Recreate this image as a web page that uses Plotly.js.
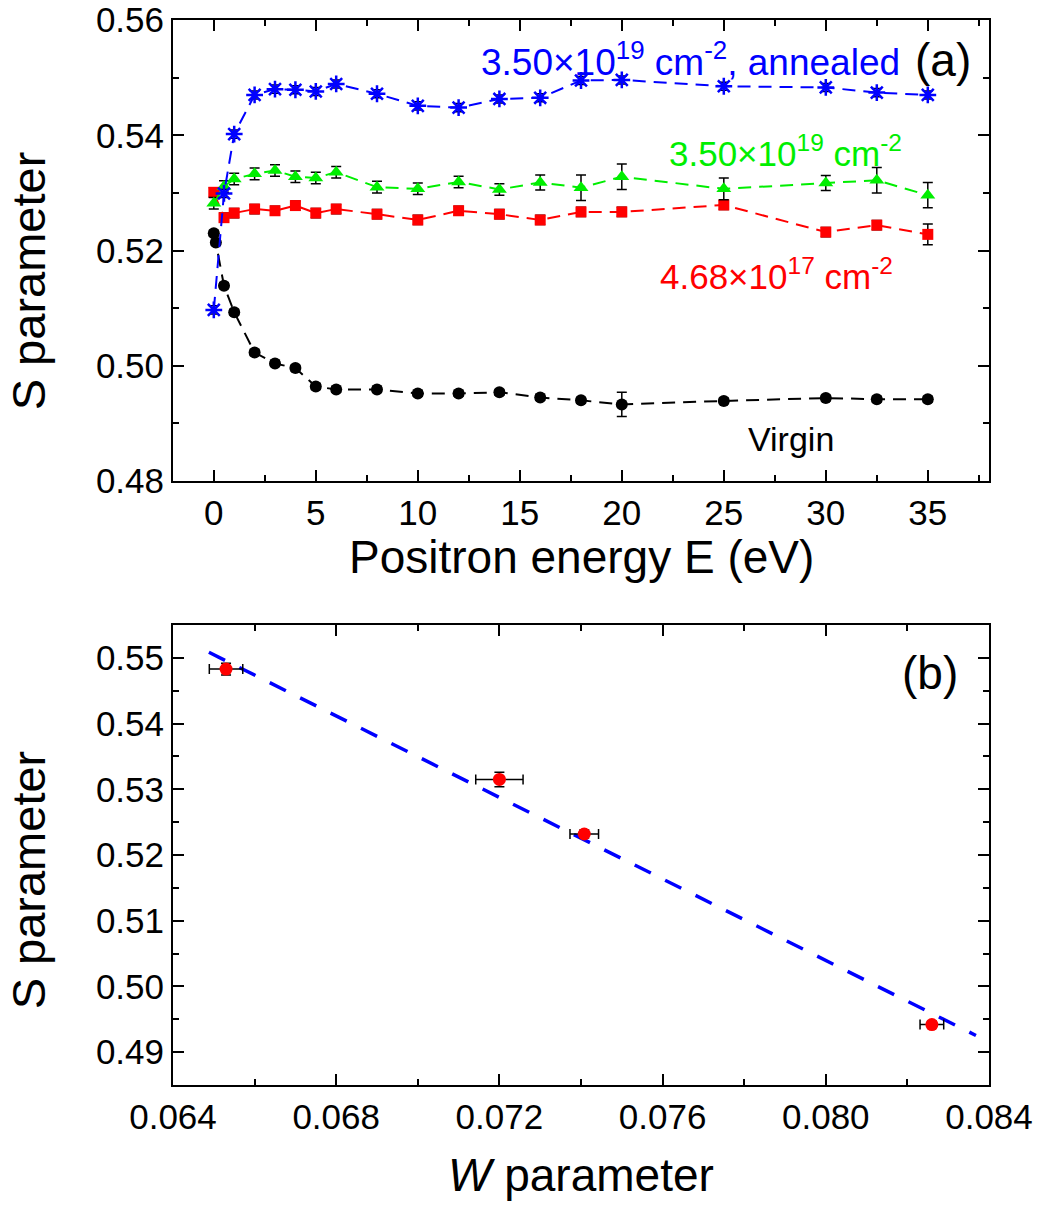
<!DOCTYPE html>
<html><head><meta charset="utf-8">
<script src="https://cdn.plot.ly/plotly-3.0.1.min.js"></script>
<style>body{margin:0;background:#fff}#chart{width:1041px;height:1209px}</style>
</head><body><div id="chart"></div>
<script>
// ---- panel (a): S vs positron energy ----
const energy = [0,0.5,1,2,3,4,5,6,8,10,12,14,16,18,20,25,30,32.5,35];
const energyVirgin = [0,0.1,0.5,1,2,3,4,5,6,8,10,12,14,16,18,20,25,30,32.5,35];

const sAnnealed = [0.5097,0.5299,0.5402,0.5470,0.5480,0.5479,0.5476,0.5489,0.5472,0.5451,0.5448,0.5463,0.5465,0.5495,0.5496,0.5485,0.5483,0.5474,0.5470];
const errAnnealed = [0.0007,0.0007,0.0007,0.0007,0.0007,0.0007,0.0007,0.0007,0.0007,0.0007,0.0007,0.0007,0.0007,0.0007,0.0007,0.0007,0.0007,0.0007,0.0007];

const sHigh = [0.5282,0.5311,0.5324,0.5333,0.5339,0.5328,0.5326,0.5336,0.5310,0.5307,0.5319,0.5306,0.5318,0.5309,0.5328,0.5307,0.5317,0.5322,0.5296];
const errHigh = [0.001,0.001,0.001,0.001,0.001,0.001,0.001,0.001,0.001,0.001,0.001,0.001,0.0013,0.0022,0.0022,0.0019,0.0013,0.0022,0.0022];

const sLow = [0.5301,0.5257,0.5265,0.5272,0.5269,0.5278,0.5265,0.5272,0.5263,0.5253,0.5269,0.5263,0.5253,0.5267,0.5267,0.5279,0.5232,0.5244,0.5228];
const errLow = [0.0008,0.0008,0.0008,0.0008,0.0008,0.0008,0.0008,0.0008,0.0008,0.0008,0.0008,0.0008,0.0008,0.0008,0.0008,0.0008,0.0008,0.0008,0.0018];

const sVirgin = [0.5230,0.5214,0.5139,0.5093,0.5023,0.5004,0.4996,0.4964,0.4959,0.4959,0.4952,0.4952,0.4954,0.4945,0.4940,0.4933,0.4939,0.4944,0.4942,0.4942];
const errVirgin = [0.0005,0.0005,0.0005,0.0005,0.0005,0.0005,0.0005,0.0005,0.0005,0.0005,0.0005,0.0005,0.0005,0.0005,0.0005,0.0021,0.0005,0.0005,0.0005,0.0005];

// ---- panel (b): S vs W ----
const wParam = [0.0653,0.0720,0.07408,0.0826];
const sParam = [0.5483,0.5315,0.5232,0.4942];
const wErr = [0.00041,0.00058,0.00035,0.00029];
const sErr = [0.0009,0.0011,0.0006,0.0005];
const fitW = [0.06488,0.08368];
const fitS = [0.55085,0.49254];

const FONT = 'Liberation Sans, Arial, Helvetica, sans-serif';

function errY(arr){ return {type:'data', array:arr, visible:true, color:'#000', thickness:1.5, width:5}; }

function series(x, y, err, color, symbol, size, lw){
  return {
    x:x, y:y, type:'scatter', mode:'lines+markers', xaxis:'x', yaxis:'y',
    line:{color:color, width:2, dash:'13px,8px'},
    marker:{color:color, symbol:symbol, size:size, line:{color:color, width:lw}},
    error_y: errY(err), showlegend:false, cliponaxis:false
  };
}

const traces = [
  series(energyVirgin, sVirgin, errVirgin, '#000000', 'circle', 12, 0),
  series(energy, sLow, errLow, '#ff0000', 'square', 11, 0),
  series(energy, sHigh, errHigh, '#00ee00', 'triangle-up', 13, 0),
  series(energy, sAnnealed, errAnnealed, '#0000ff', 'asterisk-open', 14, 2.5),
  {x:fitW, y:fitS, type:'scatter', mode:'lines', xaxis:'x2', yaxis:'y2',
   line:{color:'#0000ff', width:3.5, dash:'18px,16px'}, showlegend:false},
  {x:wParam, y:sParam, type:'scatter', mode:'markers', xaxis:'x2', yaxis:'y2',
   marker:{color:'#ff0000', symbol:'circle', size:13},
   error_x:{type:'data', array:wErr, visible:true, color:'#000', thickness:1.5, width:5},
   error_y:{type:'data', array:sErr, visible:true, color:'#000', thickness:1.5, width:5},
   showlegend:false}
];

function ax(extra){
  return Object.assign({
    showline:true, linecolor:'#000', linewidth:2, mirror:'ticks',
    ticks:'inside', ticklen:11, tickwidth:2, tickcolor:'#000',
    showgrid:false, zeroline:false,
    tickfont:{family:FONT, size:35, color:'#000'}
  }, extra);
}

const layout = {
  width:1041, height:1209,
  margin:{l:173, r:52, t:20, b:124},
  paper_bgcolor:'#fff', plot_bgcolor:'#fff',
  font:{family:FONT, color:'#000'},
  xaxis: ax({anchor:'y', range:[-2,38], tickvals:[0,5,10,15,20,25,30,35], ticktext:['0','5','10','15','20','25','30','35'],
    minor:{ticks:'inside', ticklen:6, tickwidth:2, tickcolor:'#000', dtick:2.5, tick0:0}}),
  yaxis: ax({anchor:'x', domain:[0.5671,1], range:[0.48,0.56], dtick:0.02, tick0:0.48, tickformat:'.2f',
    minor:{ticks:'inside', ticklen:6, tickwidth:2, tickcolor:'#000', dtick:0.01}}),
  xaxis2: ax({anchor:'y2', range:[0.064,0.084], dtick:0.004, tick0:0.064, tickformat:'.3f',
    minor:{ticks:'inside', ticklen:6, tickwidth:2, tickcolor:'#000', dtick:0.002}}),
  yaxis2: ax({anchor:'x2', domain:[0,0.4319], range:[0.485,0.555], dtick:0.01, tick0:0.49, tickformat:'.2f',
    minor:{ticks:'inside', ticklen:6, tickwidth:2, tickcolor:'#000', dtick:0.005}}),
  annotations:[
    {xref:'paper', yref:'paper', x:0.5, y:0.4958, text:'Positron energy E (eV)', showarrow:false,
     font:{family:FONT, size:46}, xanchor:'center', yanchor:'middle'},
    {xref:'paper', yref:'paper', x:-0.176, y:0.755, text:'S parameter', textangle:-90, showarrow:false,
     font:{family:FONT, size:47}, xanchor:'center', yanchor:'middle'},
    {xref:'paper', yref:'paper', x:-0.176, y:0.1925, text:'S parameter', textangle:-90, showarrow:false,
     font:{family:FONT, size:47}, xanchor:'center', yanchor:'middle'},
    {xref:'paper', yref:'paper', x:0.5, y:-0.0845, text:'<i>W</i> parameter', showarrow:false,
     font:{family:FONT, size:46}, xanchor:'center', yanchor:'middle'},
    {xref:'x', yref:'y', x:33.73, y:0.5531, text:'3.50\u00d710<sup>19</sup> cm<sup>-2</sup>, annealed', showarrow:false,
     font:{family:FONT, size:37, color:'#0000ff'}, xanchor:'right', yanchor:'middle'},
    {xref:'x', yref:'y', x:37.21, y:0.5531, text:'(a)', showarrow:false,
     font:{family:FONT, size:46, color:'#000'}, xanchor:'right', yanchor:'middle'},
    {xref:'x', yref:'y', x:33.83, y:0.5373, text:'3.50\u00d710<sup>19</sup> cm<sup>-2</sup>', showarrow:false,
     font:{family:FONT, size:35, color:'#00ee00'}, xanchor:'right', yanchor:'middle'},
    {xref:'x', yref:'y', x:33.4, y:0.5159, text:'4.68\u00d710<sup>17</sup> cm<sup>-2</sup>', showarrow:false,
     font:{family:FONT, size:35, color:'#ff0000'}, xanchor:'right', yanchor:'middle'},
    {xref:'x', yref:'y', x:30.5, y:0.48735, text:'Virgin', showarrow:false,
     font:{family:FONT, size:34, color:'#000'}, xanchor:'right', yanchor:'middle'},
    {xref:'paper', yref:'paper', x:0.9645, y:0.3864, text:'(b)', showarrow:false,
     font:{family:FONT, size:46, color:'#000'}, xanchor:'right', yanchor:'middle'}
  ]
};

Plotly.newPlot('chart', traces, layout, {displayModeBar:false, staticPlot:true});
</script></body></html>
